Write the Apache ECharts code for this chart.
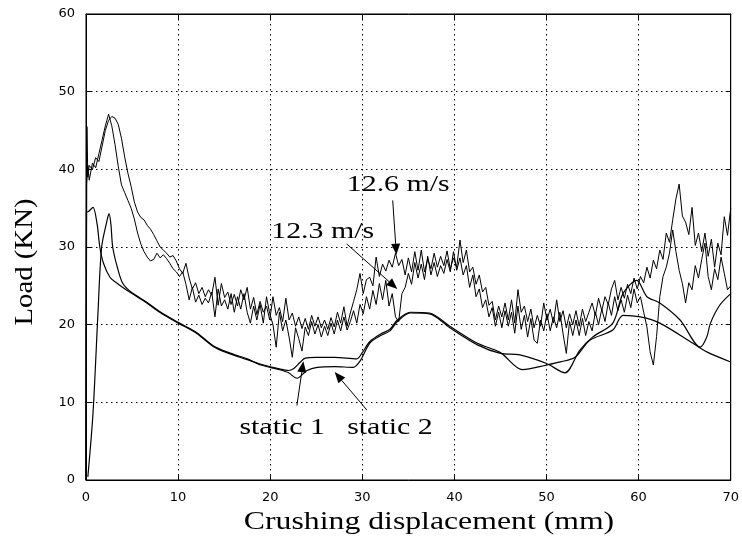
<!DOCTYPE html>
<html>
<head>
<meta charset="utf-8">
<script src="https://cdn.jsdelivr.net/npm/echarts@6/dist/echarts.min.js"></script>
<style>
html,body{margin:0;padding:0;background:#fff;}
#chart{width:742px;height:544px;}
</style>
</head>
<body>
<div id="chart"></div>
<script>
// ---- data ----
const xTicks = [0, 10, 20, 30, 40, 50, 60, 70];
const yTicks = [0, 10, 20, 30, 40, 50, 60];

// dynamic tests: start points, then samples every dynStep mm from dynStep
const dynStep = 0.35;
const d126LeadX = [0, 0.1, 0.2];
const d126LeadY = [0, 45.5, 39];
const d126Y = [
40.5,40,41.5,41,43,45,46.3,46.8,46.6,45.8,
44,41.6,39.5,37.8,35.8,34.5,33.8,33.5,32.8,32.3,
31.6,30.8,30,29.6,29.2,28.7,28.9,28.2,27.2,26.6,
27.9,26,24.6,25.4,24,24.8,23.6,24.5,23.8,26.1,
22.5,25.3,23.5,24.2,22.6,23.9,22.4,24.5,23.2,24.8,
22,23.5,21.3,23,21.6,22.4,20.6,23.6,21.2,22.2,
20.4,23.4,20.6,21.5,19.8,21,19.5,20.8,19.4,21.2,
19.8,21,19.6,20.6,19.4,20.9,19.7,21.6,20.2,22.3,
19.8,21.5,23,24.5,26.6,24,25.8,26.1,25,28.7,
26.2,27.8,26.9,28.3,27.4,29.2,27.6,28.4,26.4,28.6,
26.8,29.4,27,29.6,26.8,28.5,27.2,29.2,27.4,28.8,
27.6,29.5,27.2,28.6,27.4,30.9,28,29.6,26.8,27.4,
25.2,26.4,24.2,24.8,22.5,23,20.6,22.4,21,22.8,
20.6,23.2,20.2,24.5,21.6,22.4,20.4,22,19.6,21.2,
19.8,22.8,20.6,22,20.2,23.2,20.4,21.8,19.6,21.4,
20,21.8,19.8,22,20.4,21.6,22.8,21.2,23.4,21.8,
23.6,22.6,24.6,25.7,23.2,24.8,23.4,25.2,24,26,
24.6,26.2,25.4,27.4,26,28.3,27.2,29.6,28.4,31.8,
30.6,33.5,36.2,38.1,34,33.2,31.6,35.1,30.2,31.8,
29.4,31.8,28.8,31,27.4,30.5,29,33.9,31.5,35
];
const d123LeadX = [0, 0.05, 0.2];
const d123LeadY = [0, 38, 40.5];
const d123Y = [
38.6,40.8,40.2,42,43.8,45.6,47.1,45.6,43.2,40.4,
38,37,36,35,33.6,31.8,30.4,29.4,28.7,28.2,
28.4,29.2,28.6,29,28.5,27.9,27.2,26.8,26.2,26.8,
25.2,23.2,24.8,22.9,23.8,22.6,23.4,22.8,24.2,21,
24.6,22.4,23.2,22,24,21.6,23.6,22,24,21.6,
20.2,22.4,20.6,22.6,20.2,23.6,21.4,20,17.1,21.6,
19.2,20.6,18.4,15.8,19.6,18.2,16.6,19.7,18.6,20.4,
18.8,20,18.4,19.8,18.6,20.2,18.8,20.6,19.2,21,
19.3,20.4,21.8,20.2,22.6,21.4,23.6,22,24.4,22.6,
25.3,23.2,25.7,22.4,24,21,20.4,24,24.8,26.6,
25.2,28,26,27.8,25.8,28.8,26.4,28,26.2,27.6,
26.6,28.4,26.8,29.4,27,28.6,26.4,27.6,24.8,26.4,
23.6,24.6,22.2,23.2,21,22.2,19.8,21.6,19.6,21.8,
19.8,21.6,18.9,22.4,19.4,21.2,18.4,20.8,18,17.6,
20.6,19.2,21.4,19.2,21,19.6,21.6,18.8,16.3,20.4,
18.6,20.6,18.6,20.8,18.6,20.4,19.2,21.6,20,22,
20.4,22.8,21.2,23.6,21.8,23.2,21.6,23.8,22.2,24.6,
22.8,23.6,21.6,19.7,16.5,14.8,18.5,23.6,26.2,27.4,
29.2,32.2,29.4,27,25.3,22.8,25.4,24.5,27.6,26,
28.4,30.5,26.2,24.5,27.2,25.8,28.7,26.6,24.5,25
];

// static tests
const s1X = [0,0.05,0.3,0.76,1.2,1.5,1.9,2.6,3.3,4.0,5,6.6,8,10,12,13.8,15.5,17.5,19,21,22,22.6,23.2,23.8,25,27,29.4,30,30.8,32,33,33.8,35.2,37.3,39.5,42.5,45,47.4,50,51.5,53.1,54.7,57.2,58.3,60.2,62.3,65.9,67.4,70];
const s1Y = [0,34.4,34.6,35.1,33,30,27.9,26.1,25.4,24.8,24,22.8,21.6,20.2,18.9,17.2,16.3,15.5,14.9,14.3,14.1,14.4,15.1,15.7,15.8,15.8,15.6,16.4,17.8,18.8,19.4,20.6,21.6,21.5,19.8,17.6,16.4,14.2,14.8,15.2,15.8,18,19.3,21.2,21,20.2,17.6,16.5,15.2];
const s2X = [0.2,0.76,1.3,1.7,2.3,2.5,2.7,2.9,3.4,4.0,5,6.6,8,10,12,13.8,15.5,17.5,19,21,22,22.9,24,25.1,27,29,29.8,30.8,32,33,33.8,35.2,37.3,39.5,42.5,45,47.1,50,52,53.6,55,57.2,58.3,59.8,60.9,62.3,64.5,66.7,67.4,67.8,68.8,70];
const s2Y = [0.4,8.6,21.5,30,33.5,34.3,33,30,27.4,25.3,24.1,22.9,21.7,20.3,19,17.3,16.4,15.6,14.8,14.2,13.8,13.1,14.1,14.5,14.6,14.5,15.4,17.6,18.6,19.2,20.4,21.5,21.4,19.6,17.4,16.3,16.1,15,13.8,16.7,18.4,20.2,24,25.7,23.6,22.8,20.6,17.1,18.4,20.2,22.5,24];

// annotations: label, label position, arrow tail, arrow head (data coords)
const annLabels = ['12.6 m/s', '12.3 m/s', 'static 1', 'static 2'];
const annTextAt = [[33.9, 38.0], [25.7, 32.0], [21.3, 6.7], [33.0, 6.7]];
const annFrom = [[33.3, 36.0], [28.3, 30.4], [22.9, 9.6], [30.5, 9.0]];
const annTo = [[33.7, 29.0], [33.8, 24.6], [23.6, 15.3], [27.0, 13.9]];

const xTitle = 'Crushing displacement (mm)';
const yTitle = 'Load (KN)';

// ---- build ----
function dynData(leadX, leadY, ys) {
  const out = leadX.map((x, i) => [x, leadY[i]]);
  ys.forEach((y, k) => out.push([+((k + 1) * dynStep).toFixed(2), y]));
  return out;
}
function pairs(xs, ys) { return xs.map((x, i) => [x, ys[i]]); }

const chart = echarts.init(document.getElementById('chart'), null, {renderer: 'canvas'});
const tickFont = {color: '#000', fontFamily: 'DejaVu Sans', fontSize: 13};
const axCommon = {
  type: 'value',
  axisLine: {show: true, onZero: false, lineStyle: {color: '#000', width: 1}},
  axisTick: {show: true, inside: true, length: 5, lineStyle: {color: '#000'}},
};
const gridLine = {show: true, lineStyle: {color: '#000', width: 1, type: [1.5, 3.5]}};

const lineStyleDyn = {color: '#000', width: 1};
const lineStyleSt = {color: '#000', width: 1.2};

chart.setOption({
  animation: false,
  backgroundColor: '#fff',
  grid: {left: 86, right: 11, top: 14, bottom: 64, show: true, borderColor: '#000', borderWidth: 1, containLabel: false},
  xAxis: [
    Object.assign({}, axCommon, {position: 'bottom', min: xTicks[0], max: xTicks[xTicks.length - 1], interval: 10,
      axisLabel: Object.assign({margin: 11}, tickFont), splitLine: gridLine}),
    Object.assign({}, axCommon, {position: 'top', min: xTicks[0], max: xTicks[xTicks.length - 1], interval: 10,
      axisLabel: {show: false}, splitLine: {show: false}})
  ],
  yAxis: [
    Object.assign({}, axCommon, {position: 'left', min: yTicks[0], max: yTicks[yTicks.length - 1], interval: 10,
      axisLabel: Object.assign({margin: 11}, tickFont), splitLine: gridLine}),
    Object.assign({}, axCommon, {position: 'right', min: yTicks[0], max: yTicks[yTicks.length - 1], interval: 10,
      axisLabel: {show: false}, splitLine: {show: false}})
  ],
  series: [
    {name: '12.6 m/s', type: 'line', showSymbol: false, symbol: 'none', data: dynData(d126LeadX, d126LeadY, d126Y), lineStyle: lineStyleDyn, z: 3},
    {name: '12.3 m/s', type: 'line', showSymbol: false, symbol: 'none', data: dynData(d123LeadX, d123LeadY, d123Y), lineStyle: lineStyleDyn, z: 3},
    {name: 'static 1', type: 'line', showSymbol: false, symbol: 'none', smooth: 0.3, data: pairs(s1X, s1Y), lineStyle: lineStyleSt, z: 4},
    {name: 'static 2', type: 'line', showSymbol: false, symbol: 'none', smooth: 0.3, data: pairs(s2X, s2Y), lineStyle: lineStyleSt, z: 4}
  ]
});

const toPx = (p) => chart.convertToPixel({xAxisIndex: 0, yAxisIndex: 0}, p);
const g = [];
const serif = 'Liberation Serif, Times New Roman, serif';
annLabels.forEach((t, i) => {
  const c = toPx(annTextAt[i]);
  g.push({type: 'text', x: c[0], y: c[1], scaleX: 1.3, z: 100,
    style: {text: t, fill: '#000', font: '23px ' + serif, textAlign: 'center', textVerticalAlign: 'middle'}});
  const a = toPx(annFrom[i]), b = toPx(annTo[i]);
  const ang = Math.atan2(b[1] - a[1], b[0] - a[0]);
  const hl = 11, hw = 4.5;
  const bx = b[0] - hl * Math.cos(ang), by = b[1] - hl * Math.sin(ang);
  g.push({type: 'line', z: 100, shape: {x1: a[0], y1: a[1], x2: bx, y2: by}, style: {stroke: '#000', lineWidth: 1}});
  g.push({type: 'polygon', z: 100, shape: {points: [
    [b[0], b[1]],
    [bx + hw * Math.sin(ang), by - hw * Math.cos(ang)],
    [bx - hw * Math.sin(ang), by + hw * Math.cos(ang)]
  ]}, style: {fill: '#000'}});
});
g.push({type: 'text', x: 429, y: 522, scaleX: 1.27, z: 100,
  style: {text: xTitle, fill: '#000', font: '25px ' + serif, textAlign: 'center', textVerticalAlign: 'middle'}});
g.push({type: 'text', x: 25, y: 262, rotation: Math.PI / 2, scaleX: 1.15, z: 100,
  style: {text: yTitle, fill: '#000', font: '25px ' + serif, textAlign: 'center', textVerticalAlign: 'middle'}});
chart.setOption({graphic: g});
</script>
</body>
</html>
